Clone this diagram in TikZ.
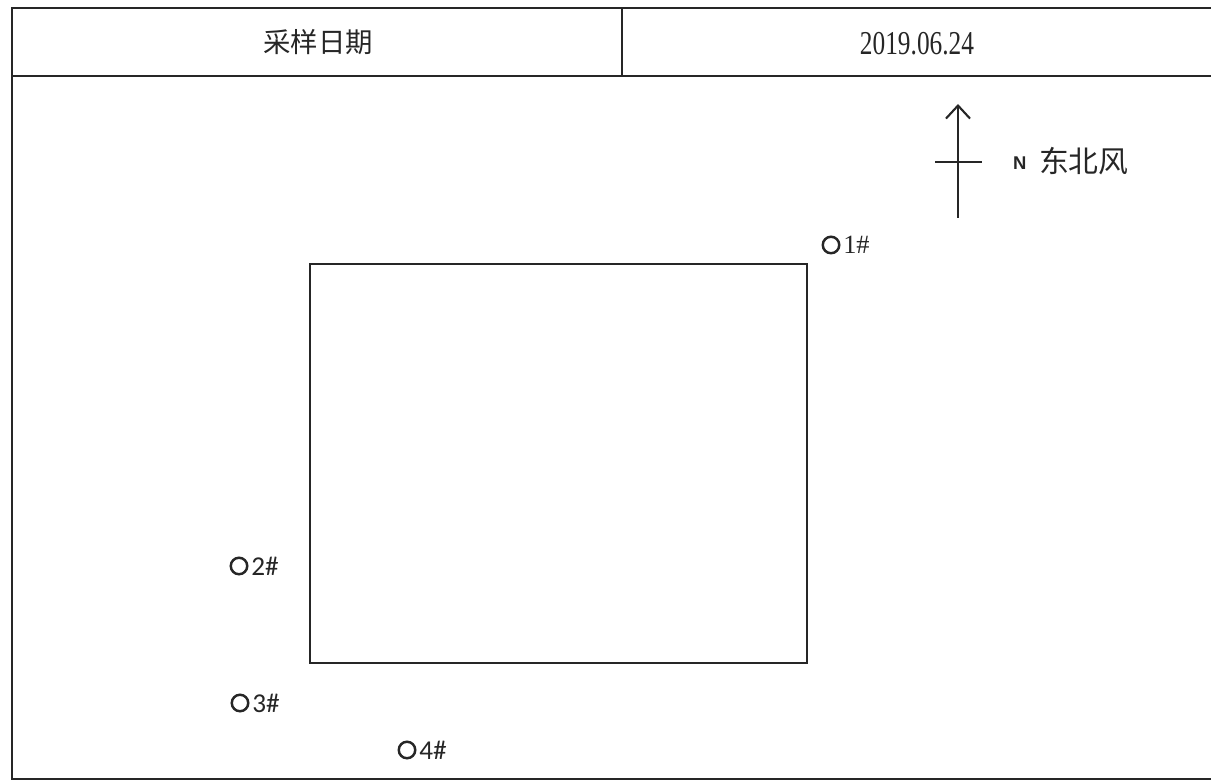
\documentclass[tikz,border=0pt]{standalone}
\usepackage{fontspec}
\setmainfont{Liberation Serif}
\newfontfamily\cjk{Noto Sans CJK SC}
\newfontfamily\lblfont{Carlito}
\newfontfamily\nfont{Liberation Sans}
\usetikzlibrary{arrows.meta}

\begin{document}
\begin{tikzpicture}[x=0.02cm, y=-0.02cm, thick, line width=1.2pt, color=black!85]
\useasboundingbox (0,0) rectangle (1211,783);
\tikzset{pt/.style={circle, draw, line width=1.4pt, minimum size=0.33cm, inner sep=0pt},
         lbl/.style={right, inner sep=1pt, font=\lblfont\fontsize{15.5}{15.5}\selectfont}}

%\draw[help lines, ultra thin] (0,0) grid[step=50] (1211,783);
\draw (12,8) rectangle (1225,779);
\draw (12,76) -- (1225,76);
\draw (622,8) -- (622,76);
\draw (310,264) rectangle (807,663);

%nodes
\node [font=\cjk\fontsize{15.6}{15.6}\selectfont] (date) at (318,42) {采样日期};
\node [xscale=0.76, font=\fontsize{19}{19}\selectfont] (dateval) at (917,44) {2019.06.24};

%wind
\coordinate (tail) at (958,218);
\coordinate (head) at (958,104);
\draw [-{Straight Barb[length=2.6mm,width=4.8mm]}] (tail) -- (head);
\draw (935,162) -- (982,162);
\node [right, inner sep=0pt, font=\nfont\bfseries\fontsize{10.5}{10.5}\selectfont] (north) at (1012,163) {N};
\node [right, inner sep=0pt, font=\cjk\fontsize{17}{17}\selectfont] (wind) at (1038,161) {东北风};

%points
\node [pt] (c1) at (831,245) {};
\node [lbl, font=\fontsize{15}{15}\selectfont] at (c1.east) {1\#};
\node [pt] (c2) at (239,566) {};
\node [lbl] at (c2.east) {2\#};
\node [pt] (c3) at (240,703) {};
\node [lbl] at (c3.east) {3\#};
\node [pt] (c4) at (407,750) {};
\node [lbl] at (c4.east) {4\#};

\end{tikzpicture}
\end{document}
